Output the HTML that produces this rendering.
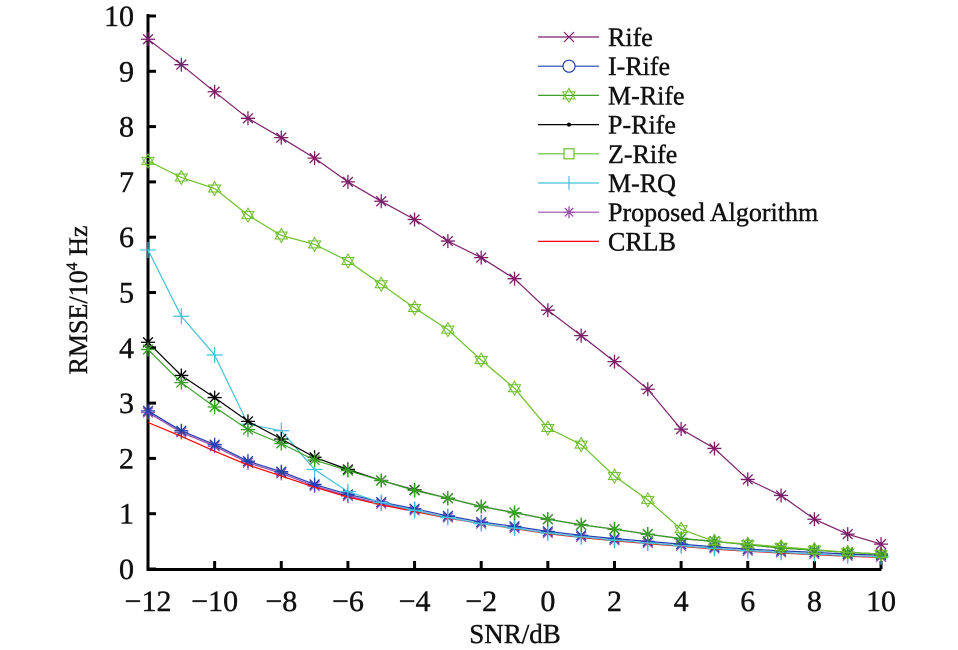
<!DOCTYPE html>
<html><head><meta charset="utf-8"><style>
html,body{margin:0;padding:0;background:#fff;}
svg{display:block;}
text{font-family:"Liberation Serif",serif;fill:#111;stroke:#111;stroke-width:0.4;}
</style></head><body>
<svg id="s" width="958" height="650" xmlns="http://www.w3.org/2000/svg"></svg>
<script>
(function(){
const s=document.getElementById('s');
const X=v=>148+(v+12)*33.32, Y=v=>569-v*55.3;
let h='';
h+=`<line x1="148" y1="14" x2="148" y2="570.5" stroke="#000" stroke-width="3"/>`;
h+=`<line x1="146.5" y1="569.5" x2="881.5" y2="569.5" stroke="#000" stroke-width="3"/>`;
for(let i=0;i<=10;i++){const y=Y(i);h+=`<line x1="148" y1="${y}" x2="156" y2="${y}" stroke="#000" stroke-width="3"/>`;
h+=`<text x="134" y="${y+10}" font-size="30" text-anchor="end">${i}</text>`;}
for(let v=-12;v<=10;v+=2){const x=X(v);h+=`<line x1="${x}" y1="569" x2="${x}" y2="561" stroke="#000" stroke-width="3"/>`;
h+=`<text x="${x}" y="611" font-size="30" text-anchor="middle">${v<0?'\u2212'+(-v):v}</text>`;}
h+=`<text x="515" y="643" font-size="27" text-anchor="middle">SNR/dB</text>`;
h+=`<text transform="translate(87,300) rotate(-90)" font-size="26" text-anchor="middle">RMSE/10<tspan font-size="16" dy="-10">4</tspan><tspan dy="10"> Hz</tspan></text>`;
const xs=[];for(let v=-12;v<=10;v++)xs.push(v);
const topd=[9.58,9.12,8.63,8.15,7.8,7.43,7.0,6.65,6.32,5.93,5.63,5.25,4.68,4.22,3.75,3.25,2.53,2.18,1.62,1.33,0.9,0.63,0.45];
const mr=[7.38,7.08,6.88,6.4,6.03,5.87,5.57,5.15,4.72,4.33,3.78,3.27,2.55,2.25,1.68,1.25,0.72,0.5,0.45,0.4,0.35,0.3,0.27];
const pr=[4.1,3.5,3.1,2.67,2.35,2.02,1.8,1.6,1.43,1.28,1.13,1.02,0.9,0.8,0.72,0.63,0.55,0.5,0.44,0.38,0.34,0.3,0.27];
const zr=[3.97,3.37,2.93,2.52,2.27,1.97,1.78,1.6,1.42,1.28,1.13,1.02,0.9,0.8,0.72,0.63,0.55,0.5,0.44,0.38,0.34,0.3,0.27];
const low=[2.83,2.47,2.22,1.92,1.73,1.5,1.32,1.18,1.06,0.93,0.82,0.74,0.65,0.58,0.52,0.47,0.42,0.37,0.33,0.3,0.27,0.24,0.22];
const rq=[5.77,4.57,3.87,2.62,2.5,1.8,1.4,1.2,1.06,0.93,0.82,0.74,0.65,0.58,0.52,0.47,0.42,0.37,0.33,0.3,0.27,0.24,0.22];
const cr=[2.65,2.4,2.13,1.88,1.68,1.48,1.3,1.16,1.04,0.92,0.82,0.73,0.64,0.57,0.51,0.46,0.41,0.36,0.32,0.29,0.26,0.23,0.21];
function ast(x,y,c,r){r=r||7;return `<path d="M${x-r} ${y}H${x+r}M${x} ${y-r}V${y+r}M${x-r*.7} ${y-r*.7}L${x+r*.7} ${y+r*.7}M${x-r*.7} ${y+r*.7}L${x+r*.7} ${y-r*.7}" stroke="${c}" stroke-width="1.3" fill="none"/>`;}
function star(x,y,c){const r=7;let p1='',p2='';for(let k=0;k<3;k++){const a=-Math.PI/2+k*2*Math.PI/3,b=Math.PI/2+k*2*Math.PI/3;p1+=(k?'L':'M')+(x+r*Math.cos(a)).toFixed(1)+' '+(y+r*Math.sin(a)).toFixed(1);p2+=(k?'L':'M')+(x+r*Math.cos(b)).toFixed(1)+' '+(y+r*Math.sin(b)).toFixed(1);}return `<path d="${p1}Z${p2}Z" stroke="${c}" stroke-width="1" fill="none"/>`;}
function plus(x,y,c){return `<path d="M${x-8} ${y}H${x+8}M${x} ${y-8}V${y+8}" stroke="${c}" stroke-width="1.2"/>`;}
function line(d,c){return `<polyline points="${d.map((v,i)=>X(xs[i]).toFixed(1)+','+Y(v).toFixed(1)).join(' ')}" fill="none" stroke="${c}" stroke-width="1.2"/>`;}
function series(d,c,m){let o=line(d,c);if(m)d.forEach((v,i)=>{o+=m(X(xs[i]),Y(v),c);});return o;}
h+=series(low,'#9b4fb0',ast);
h+=series(low.map(v=>v+0.03),'#2340b0',ast);
h+=series(cr,'#ff0000');
h+=series(rq,'#45c0d8',plus);
h+=series(pr,'#000',ast);
h+=series(zr,'#3aa02a',ast);
h+=series(mr,'#6cbf2a',star);
h+=series(topd,'#7b1f6a',ast);
const L=[['Rife','#7b1f6a','x'],['I-Rife','#2340b0','o'],['M-Rife','#3aa02a','s'],['P-Rife','#000','d'],['Z-Rife','#6cbf2a','q'],['M-RQ','#45c0d8','p'],['Proposed Algorithm','#9b4fb0','a'],['CRLB','#ff0000','']];
L.forEach((e,i)=>{const y=37+i*29.2,c=e[1],m=e[2],cx=569;
h+=`<line x1="538" y1="${y}" x2="599" y2="${y}" stroke="${c}" stroke-width="1.2"/>`;
if(m=='x')h+=`<path d="M${cx-5} ${y-5}L${cx+5} ${y+5}M${cx-5} ${y+5}L${cx+5} ${y-5}" stroke="${c}" stroke-width="1.2"/>`;
if(m=='o')h+=`<circle cx="${cx}" cy="${y}" r="6" fill="#fff" stroke="${c}" stroke-width="1.2"/>`;
if(m=='s')h+=star(cx,y,'#6cbf2a');
if(m=='d')h+=`<circle cx="${cx}" cy="${y}" r="2" fill="${c}"/>`;
if(m=='q')h+=`<rect x="${cx-5}" y="${y-5}" width="10" height="10" fill="#fff" stroke="${c}" stroke-width="1.2"/>`;
if(m=='p')h+=`<line x1="${cx}" y1="${y-7}" x2="${cx}" y2="${y+7}" stroke="${c}" stroke-width="1.2"/>`;
if(m=='a')h+=ast(cx,y,c,6);
h+=`<text x="608" y="${y+9}" font-size="26">${e[0]}</text>`;});
s.innerHTML=h;
})();
</script>
</body></html>
